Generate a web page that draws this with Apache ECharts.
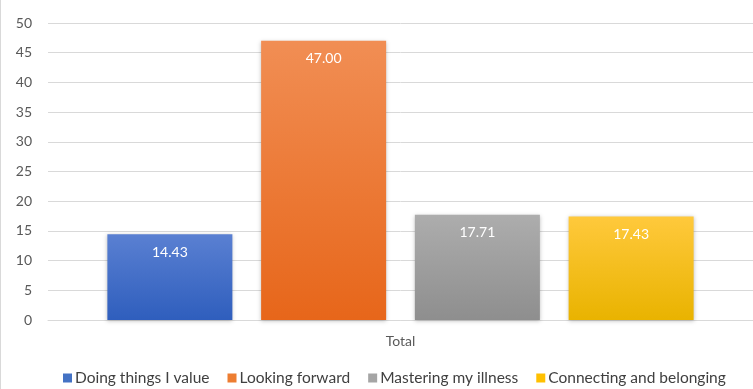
<!DOCTYPE html>
<html>
<head>
<meta charset="utf-8">
<style>
  html, body { margin: 0; padding: 0; background: #fff; }
  #chart { width: 753px; height: 389px; box-sizing: border-box; border-left: 1px solid #d9d9d9; }
</style>
<script src="https://cdn.jsdelivr.net/npm/echarts@6/dist/echarts.min.js"></script>
</head>
<body>
<div id="chart"></div>
<script>
const categories = ['Total'];
const seriesNames = ['Doing things I value', 'Looking forward', 'Mastering my illness', 'Connecting and belonging'];
const seriesValues = [[14.43], [47.00], [17.71], [17.43]];
const yTicks = { min: 0, max: 50, interval: 5 };

// top/bottom colours for each bar's vertical gradient
const palette = [
  ['#5a80d2', '#2f5ebd'],
  ['#f18e54', '#e7661a'],
  ['#adadad', '#8e8e8e'],
  ['#ffc93c', '#e9b300']
];
const legendColors = ['#4472c4', '#ed7d31', '#a5a5a5', '#ffc000'];

const FONT = 'Lato, "Open Sans", sans-serif';

const chart = echarts.init(document.getElementById('chart'));
chart.setOption({
  animation: false,
  grid: { left: 47, right: 0, top: 23, bottom: 69 },
  legend: {
    bottom: -2,
    left: 57,
    itemWidth: 9,
    itemHeight: 9,
    itemGap: 18,
    icon: 'rect',
    textStyle: { color: '#404040', fontSize: 15.5, fontFamily: FONT, padding: [0, 0, 0, -2] },
    data: seriesNames.map((n, i) => ({ name: n, itemStyle: { color: legendColors[i] } }))
  },
  xAxis: {
    type: 'category',
    data: categories,
    axisLine: { lineStyle: { color: '#d9d9d9', width: 1 } },
    axisTick: { show: false },
    axisLabel: { color: '#595959', fontSize: 14, fontFamily: FONT, margin: 14 }
  },
  yAxis: {
    type: 'value',
    min: yTicks.min,
    max: yTicks.max,
    interval: yTicks.interval,
    axisLine: { show: false },
    axisTick: { show: false },
    axisLabel: { color: '#595959', fontSize: 14, fontFamily: FONT, margin: 16 },
    splitLine: { lineStyle: { color: '#d9d9d9', width: 1 } }
  },
  series: seriesNames.map((name, i) => ({
    name,
    type: 'bar',
    data: seriesValues[i],
    barWidth: 125,
    barGap: '23%',
    itemStyle: {
      color: new echarts.graphic.LinearGradient(0, 0, 0, 1, [
        { offset: 0, color: palette[i][0] },
        { offset: 1, color: palette[i][1] }
      ]),
      shadowBlur: 4,
      shadowColor: 'rgba(0,0,0,0.25)',
      shadowOffsetY: 1
    },
    label: {
      show: true,
      position: 'insideTop',
      distance: 11,
      color: '#ffffff',
      fontSize: 14,
      fontFamily: FONT,
      formatter: p => p.value.toFixed(2)
    }
  }))
});
</script>
</body>
</html>
